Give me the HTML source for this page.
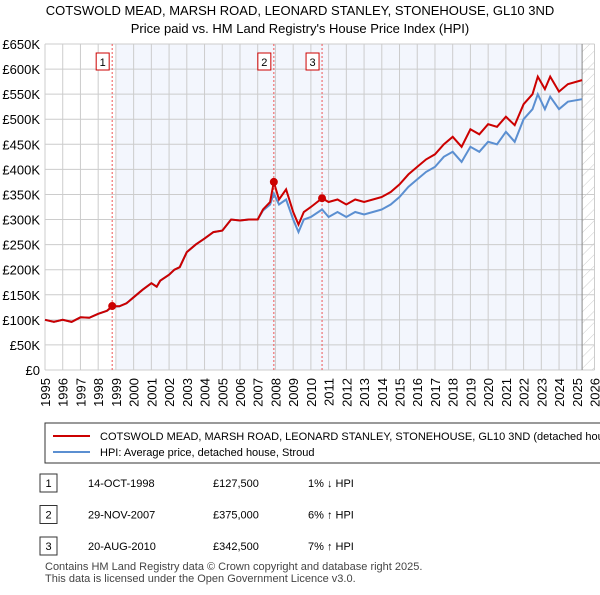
<!DOCTYPE html>
<html><head><meta charset="utf-8"><style>
body{margin:0;background:#fff;font-family:"Liberation Sans",sans-serif;color:#222}
svg text{font-family:"Liberation Sans",sans-serif}
</style></head><body>
<svg width="600" height="590" viewBox="0 0 600 590">
<text x="300" y="15" text-anchor="middle" font-size="13">COTSWOLD MEAD, MARSH ROAD, LEONARD STANLEY, STONEHOUSE, GL10 3ND</text>
<text x="300" y="33" text-anchor="middle" font-size="13">Price paid vs. HM Land Registry's House Price Index (HPI)</text>
<defs><pattern id="hatch" width="8" height="8" patternUnits="userSpaceOnUse" patternTransform="rotate(45)"><line x1="0" y1="0" x2="0" y2="8" stroke="#ccc" stroke-width="1"/></pattern></defs>
<g id="plot"></g>
<g id="legend">
<rect x="45" y="423" width="560" height="40" fill="#fff" stroke="#333"/>
<line x1="53" y1="436" x2="90" y2="436" stroke="#cc0000" stroke-width="2"/>
<text x="100" y="440" font-size="11">COTSWOLD MEAD, MARSH ROAD, LEONARD STANLEY, STONEHOUSE, GL10 3ND (detached hou</text>
<line x1="53" y1="452" x2="90" y2="452" stroke="#5b8fd1" stroke-width="2"/>
<text x="100" y="456" font-size="11">HPI: Average price, detached house, Stroud</text>
</g>
<g id="table" font-size="11"></g>
<text x="45" y="570" font-size="11" fill="#444">Contains HM Land Registry data © Crown copyright and database right 2025.</text>
<text x="45" y="582" font-size="11" fill="#444">This data is licensed under the Open Government Licence v3.0.</text>
</svg>
<script>
const yTicks=[0,50,100,150,200,250,300,350,400,450,500,550,600,650];
const xYears=[1995,1996,1997,1998,1999,2000,2001,2002,2003,2004,2005,2006,2007,2008,2009,2010,2011,2012,2013,2014,2015,2016,2017,2018,2019,2020,2021,2022,2023,2024,2025,2026];
const dates=[1995,1995.5,1996,1996.5,1997,1997.5,1998,1998.5,1998.79,1999.2,1999.6,2000,2000.5,2001,2001.3,2001.5,2002,2002.3,2002.6,2003,2003.5,2004,2004.5,2005,2005.5,2006,2006.5,2007,2007.3,2007.7,2007.91,2008.2,2008.6,2009,2009.3,2009.6,2010,2010.63,2011,2011.5,2012,2012.5,2013,2013.5,2014,2014.5,2015,2015.5,2016,2016.5,2017,2017.5,2018,2018.5,2019,2019.5,2020,2020.5,2021,2021.5,2022,2022.5,2022.8,2023.2,2023.5,2024,2024.5,2025.3];
const priceVals=[100,96,100,96,105,104,112,118,127.5,127,133,145,160,173,166,178,190,200,205,235,250,262,275,278,300,298,300,300,320,335,375,340,360,315,290,315,325,342.5,335,340,330,340,335,340,345,355,370,390,405,420,430,450,465,445,480,470,490,485,505,488,530,550,585,560,585,555,570,578];
const hpiVals=[100,96,100,96,105,104,112,118,126,127,133,145,160,173,166,178,190,200,205,235,250,262,275,278,300,298,300,300,318,330,352,330,340,300,275,300,305,320,305,315,305,315,310,315,320,330,345,365,380,395,405,425,435,415,445,435,455,450,475,455,500,520,550,520,545,520,535,540];
const sales=[{n:"1",d:1998.79,v:127.5,date:"14-OCT-1998",p:"£127,500",h:"1% ↓ HPI"},{n:"2",d:2007.91,v:375,date:"29-NOV-2007",p:"£375,000",h:"6% ↑ HPI"},{n:"3",d:2010.63,v:342.5,date:"20-AUG-2010",p:"£342,500",h:"7% ↑ HPI"}];
const X0=45,X1=594.5,Y0=370,Y1=44;
const xs=d=>X0+(d-1995)/(2026-1995)*(X1-X0);
const ys=v=>Y0-v/650*(Y0-Y1);
const NS="http://www.w3.org/2000/svg";
const plot=document.getElementById('plot');
function mk(t,a,p){const e=document.createElementNS(NS,t);for(const k in a)e.setAttribute(k,a[k]);(p||plot).appendChild(e);return e;}
let r=mk('rect',{x:xs(1999.05),y:Y1,width:xs(2025.3)-xs(1999.05),height:Y0-Y1,fill:'#f3f6fd'});


let h=mk('rect',{x:xs(2025.3),y:Y1,width:X1-xs(2025.3),height:Y0-Y1,fill:'url(#hatch)'});


yTicks.forEach(t=>{const l=mk('line',{x1:X0,x2:X1,y1:ys(t),y2:ys(t),stroke:'#ccc'});


const tx=mk('text',{x:40,y:ys(t)+5,'text-anchor':'end','font-size':13});tx.textContent=t===0?'£0':'£'+t+'K';

});
xYears.forEach(y=>{const l=mk('line',{x1:xs(y),x2:xs(y),y1:Y1,y2:Y0,stroke:'#ccc'});


const tx=mk('text',{x:0,y:0,'text-anchor':'end','font-size':13,transform:`translate(${xs(y)+5},${Y0+8}) rotate(-90)`});tx.textContent=y;

});
let vl=mk('line',{x1:xs(2025.3),x2:xs(2025.3),y1:Y1,y2:Y0,stroke:'#888'});


sales.forEach(s=>{const l=mk('line',{x1:xs(s.d),x2:xs(s.d),y1:Y1,y2:Y0,stroke:'#e55','stroke-dasharray':'2,2'});


const b=mk('rect',{x:xs(s.d)-16,y:53,width:13,height:17,fill:'#fff',stroke:'#c00'});


const t=mk('text',{x:xs(s.d)-9.5,y:66,'text-anchor':'middle','font-size':11});t.textContent=s.n;

});
const path=v=>dates.map((d,i)=>(i?'L':'M')+xs(d).toFixed(1)+','+ys(v[i]).toFixed(1)).join('');
let hp=mk('path',{d:path(hpiVals),fill:'none',stroke:'#5b8fd1','stroke-width':2});


let pp=mk('path',{d:path(priceVals),fill:'none',stroke:'#cc0000','stroke-width':2});


sales.forEach(s=>{const c=mk('circle',{cx:xs(s.d),cy:ys(s.v),r:4,fill:'#cc0000'});

});
const tb=document.getElementById('table');
sales.forEach((s,i)=>{const y=486+i*31.5;
const b=mk('rect',{x:40,y:y-12,width:17,height:18,fill:'#fff',stroke:'#333'},tb);


[[48.5,s.n,'middle'],[88,s.date,'start'],[213,s.p,'start'],[308,s.h,'start']].forEach(c=>{const t=mk('text',{x:c[0],y:y+1,'text-anchor':c[2]},tb);t.textContent=c[1];

});});
</script>
</body></html>
